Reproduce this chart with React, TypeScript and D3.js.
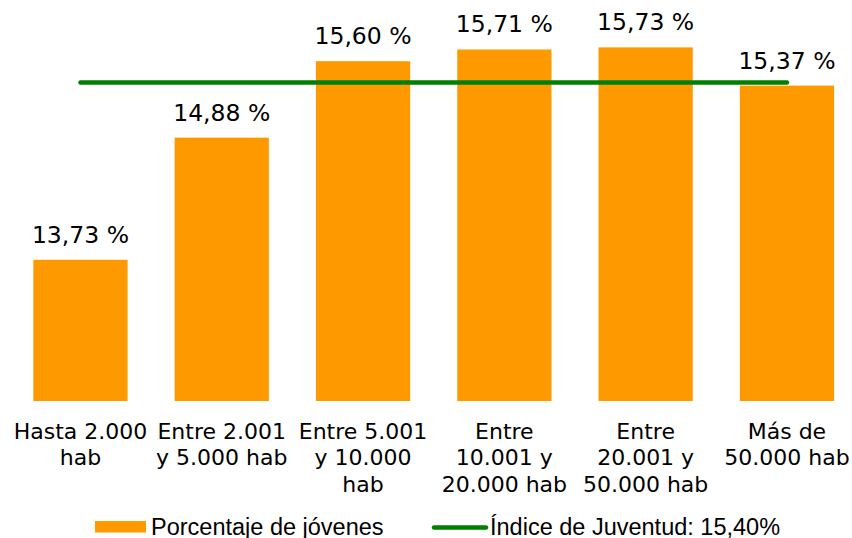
import React from "react";
import * as d3 from "d3";

const categories = [
  "Hasta 2.000 hab",
  "Entre 2.001 y 5.000 hab",
  "Entre 5.001 y 10.000 hab",
  "Entre 10.001 y 20.000 hab",
  "Entre 20.001 y 50.000 hab",
  "Más de 50.000 hab",
];
// how the axis labels wrap in the original
const categoryLines = [
  ["Hasta 2.000", "hab"],
  ["Entre 2.001", "y 5.000 hab"],
  ["Entre 5.001", "y 10.000", "hab"],
  ["Entre", "10.001 y", "20.000 hab"],
  ["Entre", "20.001 y", "50.000 hab"],
  ["Más de", "50.000 hab"],
];
const porcentajes = [13.73, 14.88, 15.6, 15.71, 15.73, 15.37];
const indiceJuventud = 15.4;
const legendLabels = ["Porcentaje de jóvenes", "Índice de Juventud: 15,40%"];

const W = 852;
const H = 538;
const ORANGE = "#FF9900";
const GREEN = "#008000";
const chartFont = "'DejaVu Sans', Verdana, sans-serif";
const legendFont = "'Liberation Sans', Arial, sans-serif";

const fmt = (v: number) => v.toFixed(2).replace(".", ",") + " %";

export default function App() {
  const x = d3
    .scaleBand<string>()
    .domain(categories)
    .range([9.8, 857.6])
    .paddingInner(0.333)
    .paddingOuter(0.1665);
  const y = d3.scaleLinear().domain([12.4, 16]).range([401, 18.7]);

  const center = (c: string) => (x(c) ?? 0) + x.bandwidth() / 2;
  const lineGen = d3
    .line<string>()
    .x((c) => center(c))
    .y(() => y(indiceJuventud));
  const avgPath = lineGen([categories[0], categories[categories.length - 1]]) ?? "";

  return (
    <svg
      width={W}
      height={H}
      style={{ position: "absolute", left: 0, top: 0, background: "#fff" }}
    >
      {categories.map((c, i) => (
        <rect
          key={c}
          x={x(c)}
          y={y(porcentajes[i])}
          width={x.bandwidth()}
          height={y(12.4) - y(porcentajes[i])}
          fill={ORANGE}
        />
      ))}
      <path d={avgPath} stroke={GREEN} strokeWidth={4.5} strokeLinecap="round" fill="none" />
      {categories.map((c, i) => (
        <text
          key={"v" + c}
          x={center(c)}
          y={y(porcentajes[i]) - 17}
          textAnchor="middle"
          fontFamily={chartFont}
          fontSize={23.5}
          fill="#000"
        >
          {fmt(porcentajes[i])}
        </text>
      ))}
      {categories.map((c, i) => (
        <text
          key={"c" + c}
          textAnchor="middle"
          fontFamily={chartFont}
          fontSize={22}
          fill="#000"
        >
          {categoryLines[i].map((ln, j) => (
            <tspan key={j} x={center(c)} y={438.5 + j * 26.8}>
              {ln}
            </tspan>
          ))}
        </text>
      ))}
      <g fontFamily={legendFont} fontSize={23.5} fill="#000">
        <rect x={95} y={521} width={51} height={11.5} fill={ORANGE} />
        <text x={151} y={534.5}>{legendLabels[0]}</text>
        <line x1={434} x2={486} y1={527.5} y2={527.5} stroke={GREEN} strokeWidth={4.5} strokeLinecap="round" />
        <text x={490} y={534.5}>{legendLabels[1]}</text>
      </g>
    </svg>
  );
}
